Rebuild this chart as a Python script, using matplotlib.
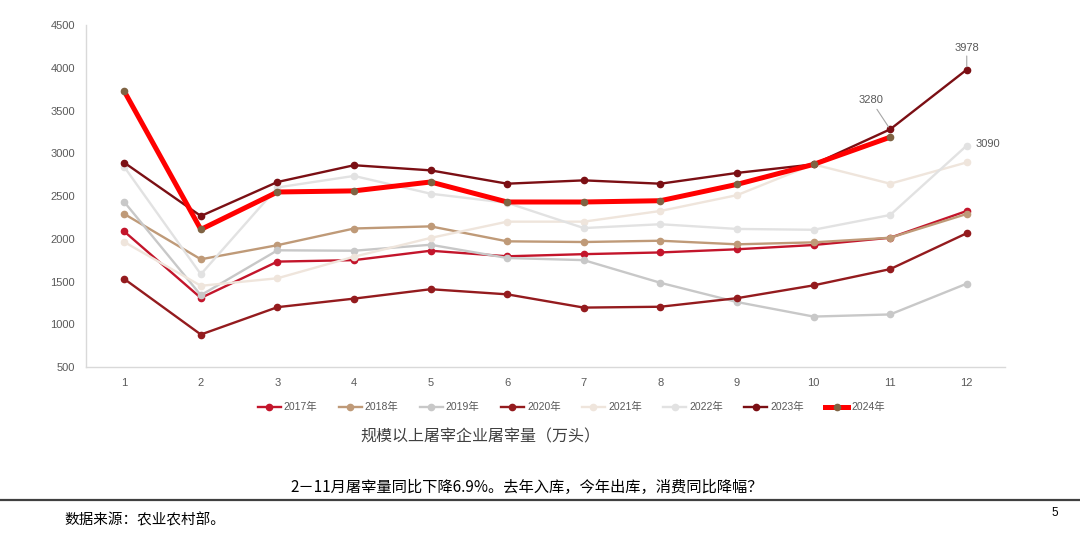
import matplotlib
matplotlib.use("Agg")
import matplotlib.pyplot as plt
from matplotlib.lines import Line2D

plt.rcParams['font.family'] = ['Liberation Sans', 'Noto Sans CJK SC', 'DejaVu Sans']

months = [1, 2, 3, 4, 5, 6, 7, 8, 9, 10, 11, 12]
y2017 = [2085, 1308, 1733, 1750, 1860, 1795, 1820, 1840, 1877, 1927, 2012, 2325]
y2018 = [2290, 1760, 1925, 2120, 2145, 1970, 1962, 1977, 1935, 1958, 2012, 2290]
y2019 = [2430, 1340, 1865, 1860, 1930, 1775, 1750, 1485, 1260, 1090, 1115, 1475]
y2020 = [1530, 880, 1200, 1300, 1410, 1350, 1195, 1205, 1305, 1455, 1645, 2065]
y2021 = [1962, 1450, 1538, 1790, 2010, 2200, 2200, 2325, 2510, 2870, 2644, 2893]
y2022 = [2840, 1585, 2600, 2735, 2527, 2420, 2125, 2170, 2115, 2105, 2278, 3090]
y2023 = [2890, 2266, 2664, 2860, 2800, 2644, 2683, 2644, 2770, 2870, 3280, 3978]
y2024 = [3725, 2109, 2547, 2560, 2664, 2430, 2430, 2445, 2636, 2870, 3188]

series = [
    ("2017年", y2017, "#c3152b", "#c3152b", 1.7),
    ("2018年", y2018, "#bf9a78", "#bf9a78", 1.7),
    ("2019年", y2019, "#c8c8c8", "#c8c8c8", 1.7),
    ("2020年", y2020, "#941b1e", "#941b1e", 1.7),
    ("2021年", y2021, "#efe5dc", "#efe5dc", 1.7),
    ("2022年", y2022, "#e2e2e2", "#e2e2e2", 1.7),
    ("2023年", y2023, "#7b0f14", "#7b0f14", 1.7),
    ("2024年", y2024, "#ff0000", "#7f6343", 3.6),
]

fig = plt.figure(figsize=(10.8, 5.33), dpi=100)
ax = fig.add_axes([0.0796, 0.3114, 0.851, 0.6417])

handles = []
for name, vals, lc, mc, lw in series:
    ax.plot(months[:len(vals)], vals, color=lc, lw=lw, marker='o', ms=4.5,
            mfc=mc, mec=mc, solid_capstyle='round')
    handles.append(Line2D([0], [0], color=lc, lw=lw, marker='o', ms=4.5,
                          mfc=mc, mec=mc, label=name))

ax.set_xlim(0.5, 12.5)
ax.set_ylim(500, 4500)
ax.set_xticks(months)
ax.set_yticks(range(500, 4501, 500))
for s in ['top', 'right']:
    ax.spines[s].set_visible(False)
for s in ['left', 'bottom']:
    ax.spines[s].set_color('#d9d9d9')
    ax.spines[s].set_linewidth(1)
ax.tick_params(length=0, labelsize=8, labelcolor='#595959', pad=8)

# annotations
ax.annotate("3978", xy=(12, y2023[11]), xytext=(12, 4170), ha='center', va='bottom',
            fontsize=8, color='#595959',
            arrowprops=dict(arrowstyle='-', color='#a6a6a6', lw=0.8, shrinkA=0, shrinkB=2))
ax.annotate("3280", xy=(11, y2023[10]), xytext=(10.75, 3560), ha='center', va='bottom',
            fontsize=8, color='#595959',
            arrowprops=dict(arrowstyle='-', color='#a6a6a6', lw=0.8, shrinkA=1, shrinkB=2))
ax.text(12.12, y2022[11] + 20, "3090", ha='left', va='center', fontsize=8, color='#595959')

fig.legend(handles=handles, loc='center', bbox_to_anchor=(0.529, 0.236), ncol=8,
           frameon=False, fontsize=7.5, handlelength=2.2, handletextpad=0.3,
           columnspacing=2.05, labelcolor='#595959')

fig.text(0.445, 0.18, "规模以上屠宰企业屠宰量（万头）", ha='center', va='center',
         fontsize=11.5, color='#404040', family=['Noto Sans CJK SC'])
fig.text(0.488, 0.086, "2－11月屠宰量同比下降6.9%。去年入库，今年出库，消费同比降幅？",
         ha='center', va='center', fontsize=11, color='#000000',
         family=['Noto Sans CJK SC', 'DejaVu Sans'])
fig.add_artist(Line2D([0.0, 1.0], [0.062, 0.062], color='#404040', lw=1.6,
                      transform=fig.transFigure))
fig.text(0.06, 0.024, "数据来源：农业农村部。", ha='left', va='center', fontsize=10.5,
         color='#000000', family=['Noto Sans CJK SC'])
fig.text(0.977, 0.038, "5", ha='center', va='center', fontsize=8.5, color='#000000')

fig.savefig("out.png", dpi=100)
